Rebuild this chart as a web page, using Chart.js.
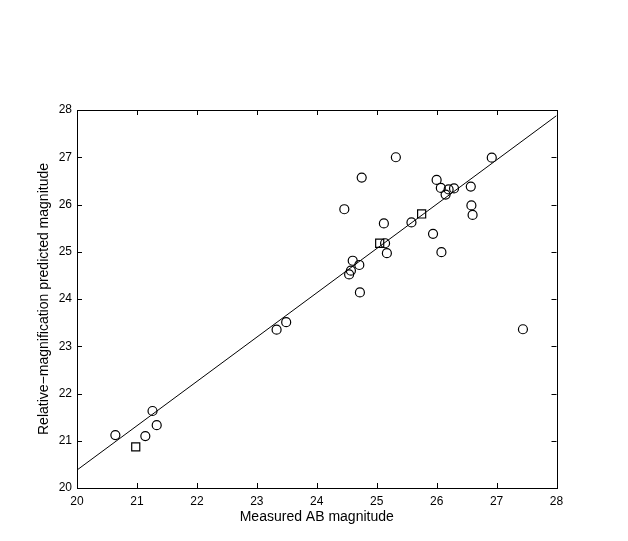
<!DOCTYPE html>
<html>
<head>
<meta charset="utf-8">
<script src="https://cdn.jsdelivr.net/npm/chart.js@4"></script>
<style>
  html, body { margin: 0; padding: 0; background: #fff; }
  #wrap { width: 628px; height: 541px; }
</style>
</head>
<body>
<div id="wrap"><canvas id="chart" width="628" height="541"></canvas></div>
<script>
// circle markers
var circleX = [20.64, 21.14, 21.26, 21.33, 23.33, 23.49, 24.46, 24.75, 25.32, 26.92,
               26.00, 26.07, 26.15, 26.20, 26.29, 26.57, 26.58, 26.60, 25.58, 25.12,
               25.94, 26.08, 25.14, 25.17, 24.60, 24.71, 24.54, 24.57, 24.72, 27.44];
var circleY = [21.12, 21.10, 21.63, 21.33, 23.35, 23.51, 25.90, 26.57, 27.00, 26.99,
               26.52, 26.35, 26.21, 26.32, 26.34, 26.38, 25.98, 25.78, 25.62, 25.60,
               25.38, 24.99, 25.18, 24.97, 24.81, 24.72, 24.52, 24.60, 24.14, 23.36];
// square markers
var squareX = [20.98, 25.05, 25.75];
var squareY = [20.87, 25.18, 25.80];
// fitted line
var fitX = [20, 28];
var fitY = [20.38, 27.88];
var xTicks = [20, 21, 22, 23, 24, 25, 26, 27, 28];
var yTicks = [20, 21, 22, 23, 24, 25, 26, 27, 28];

function pts(xs, ys) {
    return xs.map(function(x, i) { return { x: x, y: ys[i] }; });
}

Chart.defaults.font.family = "'Liberation Sans', Arial, sans-serif";
Chart.defaults.font.size = 12;
Chart.defaults.color = '#000';

// matlab style box with inward ticks on all sides
var boxTicks = {
    id: 'boxTicks',
    afterDraw: function(chart) {
        var ctx = chart.ctx, a = chart.chartArea;
        var xs = chart.scales.x, ys = chart.scales.y, len = 5;
        ctx.save();
        ctx.strokeStyle = '#000';
        ctx.lineWidth = 1;
        ctx.strokeRect(Math.round(a.left) + 0.5, Math.round(a.top) + 0.5,
            Math.round(a.right - a.left), Math.round(a.bottom - a.top));
        ctx.beginPath();
        xTicks.forEach(function(v) {
            var p = Math.round(xs.getPixelForValue(v)) + 0.5;
            ctx.moveTo(p, a.bottom); ctx.lineTo(p, a.bottom - len);
            ctx.moveTo(p, a.top); ctx.lineTo(p, a.top + len);
        });
        yTicks.forEach(function(v) {
            var p = Math.round(ys.getPixelForValue(v)) + 0.5;
            ctx.moveTo(a.left, p); ctx.lineTo(a.left + len, p);
            ctx.moveTo(a.right, p); ctx.lineTo(a.right - len, p);
        });
        ctx.stroke();
        ctx.restore();
    }
};

new Chart(document.getElementById('chart').getContext('2d'), {
    type: 'scatter',
    data: {
        datasets: [{
            label: 'fit',
            type: 'line',
            data: pts(fitX, fitY),
            borderColor: '#000',
            borderWidth: 1,
            pointRadius: 0,
            fill: false
        }, {
            label: 'circles',
            data: pts(circleX, circleY),
            pointStyle: 'circle',
            pointRadius: 4.5,
            borderColor: '#000',
            borderWidth: 1.2,
            backgroundColor: 'rgba(0,0,0,0)'
        }, {
            label: 'squares',
            data: pts(squareX, squareY),
            pointStyle: 'rect',
            pointRadius: 5.7,
            borderColor: '#000',
            borderWidth: 1.2,
            backgroundColor: 'rgba(0,0,0,0)'
        }]
    },
    options: {
        responsive: false,
        animation: false,
        layout: { padding: { left: 35.6, top: 110, right: 71.5, bottom: 15.6 } },
        plugins: { legend: { display: false }, tooltip: { enabled: false } },
        scales: {
            x: {
                type: 'linear',
                min: 20, max: 28,
                afterBuildTicks: function(s) { s.ticks = xTicks.map(function(v) { return { value: v }; }); },
                afterFit: function(s) { s.height = 37.4; },
                grid: { display: false, drawTicks: false },
                border: { display: false },
                ticks: { padding: 6, maxRotation: 0 },
                title: { display: true, text: 'Measured AB magnitude', padding: 0, font: { size: 14 } }
            },
            y: {
                type: 'linear',
                min: 20, max: 28,
                afterBuildTicks: function(s) { s.ticks = yTicks.map(function(v) { return { value: v }; }); },
                afterFit: function(s) { s.width = 41.4; },
                grid: { display: false, drawTicks: false },
                border: { display: false },
                ticks: { padding: 5 },
                title: { display: true, text: 'Relative\u2212magnification predicted magnitude', padding: 0, font: { size: 14 } }
            }
        }
    },
    plugins: [boxTicks]
});
</script>
</body>
</html>
